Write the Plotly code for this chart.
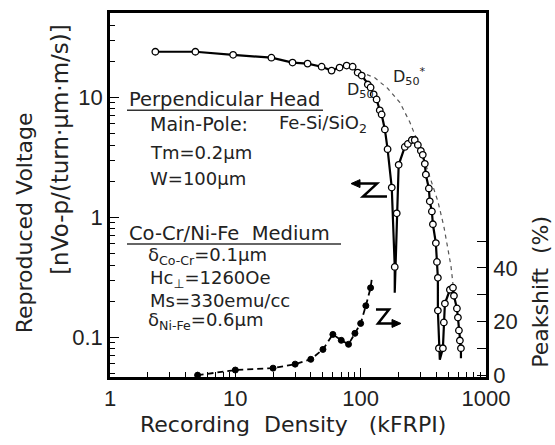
import plotly.graph_objects as go

# ---------------- data ----------------
# Reproduced voltage (open circles), branch A: down to the first null
va_x = [2.3, 4.8, 9.6, 19.4, 28.6, 37.7, 48.8, 58.6, 67.9, 77.3, 86.3, 94.6, 102, 114, 120, 127, 134, 142, 147, 156, 164, 177, 187]
va_v = [24.0, 24.0, 22.6, 21.4, 19.5, 19.1, 18.0, 16.7, 17.7, 18.4, 18.0, 16.1, 15.2, 12.8, 12.1, 10.6, 9.6, 7.8, 7.2, 5.4, 3.7, 1.77, 0.386]
null1_x = [187]
null1_v = [0.235]
# branch B: second lobe
vb_x = [194, 201, 225, 238, 256, 270, 286, 302, 313, 325, 331, 350, 356, 370, 377, 398, 406, 413, 413, 421]
vb_v = [1.08, 2.74, 3.86, 4.09, 4.41, 4.41, 4.01, 3.58, 3.32, 2.79, 2.27, 1.74, 1.36, 1.12, 0.875, 0.61, 0.425, 0.313, 0.167, 0.081]
null2_x = [428]
null2_v = [0.065]
# branch C: third lobe
vc_x = [453, 461, 470, 515, 545, 555, 586, 597, 608, 619, 631]
vc_v = [0.081, 0.133, 0.191, 0.249, 0.259, 0.222, 0.174, 0.146, 0.114, 0.094, 0.081]
tail_x = [631]
tail_v = [0.067]

# Dashed envelope curve
env_x = [98, 129, 164, 205, 247, 296, 356, 413, 461, 497, 525, 545]
env_v = [16.4, 14.6, 11.9, 9.1, 6.2, 3.86, 2.18, 1.36, 0.84, 0.544, 0.394, 0.279]

# Peakshift (%), filled dots
ps_x = [5, 10, 20, 30, 40, 50, 60, 70, 80, 90, 100, 110, 120]
ps_v = [0, 1.9, 2.6, 4.1, 5.9, 9.6, 15.2, 13.0, 11.5, 15.6, 19.3, 25.9, 32.6]
ps_tail_x = [123]
ps_tail_v = [36.3]

x_ticks = [1, 10, 100, 1000]
x_minor = [m * d for d in (1, 10, 100) for m in range(2, 10)]
y_ticks = [0.1, 1, 10]
y_ticktext = ["0.1", "1", "10"]
y_minor = [m * d for d in (0.01, 0.1, 1, 10) for m in range(2, 10)]
y2_ticks = [0, 20, 40]
y2_minor = [10, 30, 50]

# ---------------- figure ----------------
W, H = 555, 445
L, R, T, B = 110, 486, 10, 377


def pxx(x):
    return (x - L) / (R - L)


def pxy(y):
    return (B - y) / (B - T)


fig = go.Figure()

line_x = va_x + null1_x + vb_x + null2_x + vc_x + tail_x
line_v = va_v + null1_v + vb_v + null2_v + vc_v + tail_v
fig.add_trace(go.Scatter(x=env_x, y=env_v, mode="lines",
                         line=dict(color="#555", width=1.2, dash="4px,4px"), showlegend=False))
fig.add_trace(go.Scatter(x=line_x, y=line_v, mode="lines",
                         line=dict(color="black", width=2.2), showlegend=False))
fig.add_trace(go.Scatter(x=va_x + vb_x + vc_x, y=va_v + vb_v + vc_v, mode="markers",
                         marker=dict(symbol="circle", size=6.5, color="white",
                                     line=dict(color="black", width=1.3)), showlegend=False))
fig.add_trace(go.Scatter(x=ps_x + ps_tail_x, y=ps_v + ps_tail_v, mode="lines", yaxis="y2",
                         line=dict(color="black", width=1.8, dash="6px,4px"), showlegend=False))
fig.add_trace(go.Scatter(x=ps_x, y=ps_v, mode="markers", yaxis="y2",
                         marker=dict(size=6, color="black",
                                     line=dict(color="black", width=1)), showlegend=False))

tickfont = dict(family="Liberation Sans", size=22, color="#222")
fig.update_layout(
    width=W, height=H,
    margin=dict(l=L, r=W - R, t=T, b=H - B),
    paper_bgcolor="white", plot_bgcolor="white",
    xaxis=dict(type="log", range=[0, 3], showline=True, linecolor="black", linewidth=2.5,
               mirror=True, showgrid=False, zeroline=False,
               ticks="inside", ticklen=9, tickwidth=1.3, tickcolor="black",
               tickvals=x_ticks, ticktext=[str(v) for v in x_ticks], tickfont=tickfont,
               minor=dict(tickvals=x_minor, ticks="inside", ticklen=5, tickwidth=1.2,
                          tickcolor="black", showgrid=False)),
    yaxis=dict(type="log", range=[-1.331, 1.703], showline=True, linecolor="black", linewidth=2.5,
               mirror=True, showgrid=False, zeroline=False,
               ticks="inside", ticklen=9, tickwidth=1.3, tickcolor="black",
               tickvals=y_ticks, ticktext=y_ticktext, tickfont=tickfont,
               minor=dict(tickvals=y_minor, ticks="inside", ticklen=5, tickwidth=1.2,
                          tickcolor="black", showgrid=False)),
    yaxis2=dict(overlaying="y", side="right", range=[-0.7, 135.2], showline=True,
                linecolor="black", linewidth=2.5, showgrid=False, zeroline=False,
                ticks="inside", ticklen=9, tickwidth=1.3, tickcolor="black",
                tickvals=y2_ticks, ticktext=[str(v) for v in y2_ticks], tickfont=tickfont,
                minor=dict(tickvals=y2_minor, ticks="inside", ticklen=9, tickwidth=1.3,
                           tickcolor="black", showgrid=False)),
)

txt = dict(family="DejaVu Sans", size=18, color="#222")
ann = []


def add_text(x, y, s, size=18, angle=0, xanchor="left"):
    ann.append(dict(x=pxx(x), y=pxy(y), xref="paper", yref="paper", text=s,
                    showarrow=False, xanchor=xanchor, yanchor="middle",
                    textangle=angle, font=dict(txt, size=size)))


add_text(127, 97, "Perpendicular Head", size=19.5)
add_text(148, 122, "Main-Pole:", size=19)
add_text(277, 122, "Fe-Si/SiO<sub>2</sub>")
add_text(148, 151, "Tm=0.2µm")
add_text(148, 177, "W=100µm")
add_text(127, 232, "Co-Cr/Ni-Fe  Medium", size=19.5)
add_text(146, 255, "δ<sub>Co-Cr</sub>=0.1µm")
add_text(148, 278, "Hc<sub>⊥</sub>=1260Oe")
add_text(148, 300, "Ms=330emu/cc")
add_text(146, 321, "δ<sub>Ni-Fe</sub>=0.6µm")
add_text(345, 88, "D<sub>50</sub>", size=16)
add_text(391, 74, "D<sub>50</sub><sup>*</sup>", size=16)

# axis titles
add_text(24, 222, "Reproduced Voltage", size=22, angle=-90, xanchor="center")
add_text(60, 148, "[nVo-p/(turn·µm·m/s)]", size=23, angle=-90, xanchor="center")
add_text(541, 291, "Peakshift  (%)", size=22, angle=-90, xanchor="center")
add_text(293, 425, "Recording  Density   (kFRPI)", size=22, xanchor="center")

fig.update_layout(annotations=ann)


def path(points, close=False):
    s = "M " + " L ".join(f"{pxx(x):.4f},{pxy(y):.4f}" for x, y in points)
    return s + (" Z" if close else "")


shapes = [
    dict(type="line", xref="paper", yref="paper", x0=pxx(127), x1=pxx(323), y0=pxy(108), y1=pxy(108),
         line=dict(color="#333", width=1.5)),
    dict(type="line", xref="paper", yref="paper", x0=pxx(127), x1=pxx(341), y0=pxy(243), y1=pxy(243),
         line=dict(color="#333", width=1.5)),
    # left-pointing Z marker
    dict(type="path", xref="paper", yref="paper",
         path=path([(358, 182), (377, 182), (363, 195), (387, 195)]),
         line=dict(color="black", width=2.5)),
    dict(type="path", xref="paper", yref="paper",
         path=path([(351, 182), (360, 178), (360, 186)], close=True),
         fillcolor="black", line=dict(color="black", width=1)),
    # right-pointing Z marker
    dict(type="path", xref="paper", yref="paper",
         path=path([(376, 309), (389, 309), (378, 323), (394, 323)]),
         line=dict(color="black", width=2.5)),
    dict(type="path", xref="paper", yref="paper",
         path=path([(401, 323), (392, 319), (392, 327)], close=True),
         fillcolor="black", line=dict(color="black", width=1)),
]
fig.update_layout(shapes=shapes)

fig.write_html("out.html")
